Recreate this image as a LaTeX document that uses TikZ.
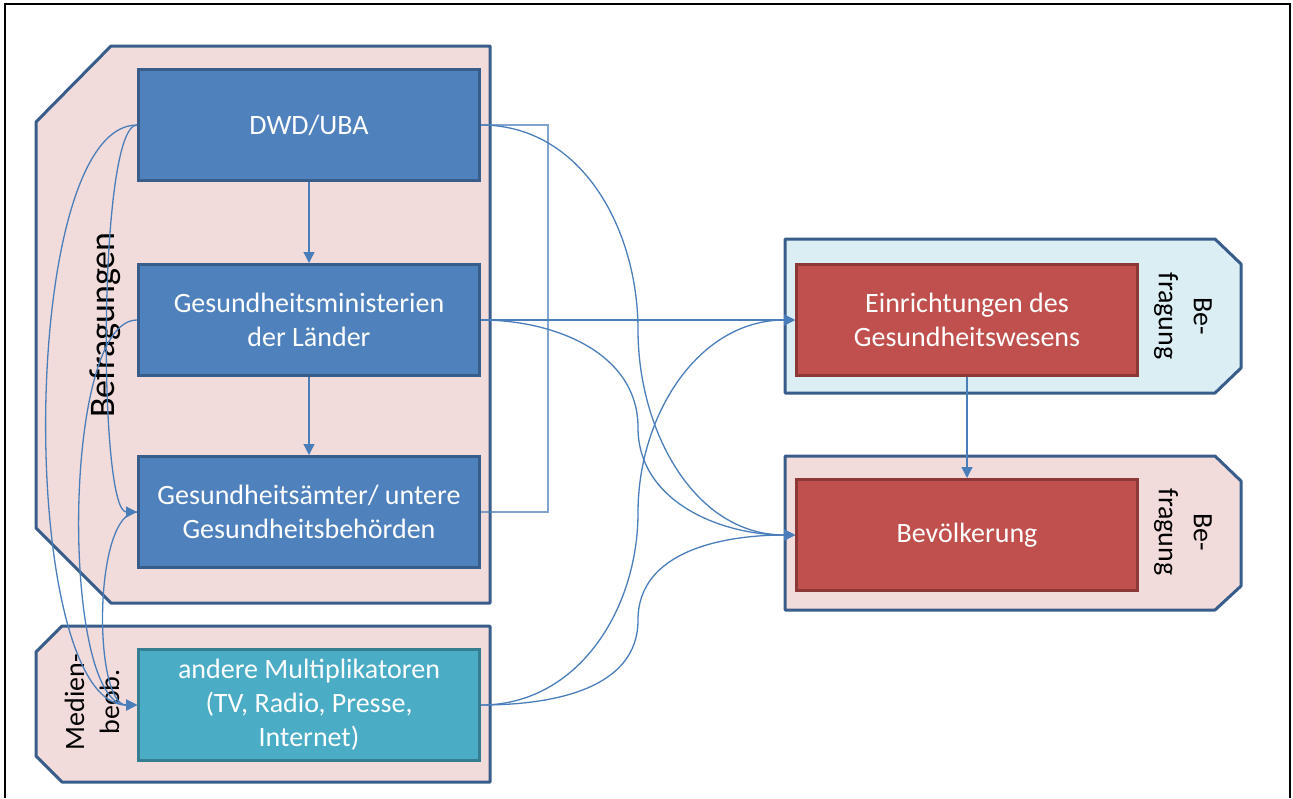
\documentclass[tikz,border=0pt]{standalone}
\usepackage{fontspec}
\setmainfont{Carlito}
\usetikzlibrary{arrows.meta,calc}
\tikzset{>={Triangle[length=5.5pt,width=5.5pt]}}

\definecolor{pinkfill}{HTML}{F2DCDB}
\definecolor{icefill}{HTML}{DBEEF4}
\definecolor{frameblue}{HTML}{385D8A}
\definecolor{boxblue}{HTML}{4F81BD}
\definecolor{boxred}{HTML}{C0504D}
\definecolor{boxredline}{HTML}{8C3836}
\definecolor{boxteal}{HTML}{4BACC6}
\definecolor{boxtealline}{HTML}{357D91}
\definecolor{linkblue}{HTML}{4A7EBB}

\tikzset{
	groupshape/.style={draw=frameblue, line width=1.5pt, line join=round},
	unitbox/.style={draw=frameblue, line width=1.5pt, minimum width=170.5pt, minimum height=55.5pt, text=white, align=center, font=\fontsize{14}{17}\selectfont},
	bluebox/.style={unitbox, fill=boxblue},
	redbox/.style={unitbox, fill=boxred, draw=boxredline},
	tealbox/.style={unitbox, fill=boxteal, draw=boxtealline},
	linkline/.style={->, draw=linkblue, line width=0.65pt},
	sidelabel/.style={align=center, font=\fontsize{14}{17.5}\selectfont}
}

\begin{document}
\begin{tikzpicture}[x=0.5pt, y=-0.5pt]
		\useasboundingbox (0,0) rectangle (1293,798);

		% Frame
		\draw[line width=1pt] (5,798) |- (1290,4) -- (1290,798);

		% Groups
		\draw[groupshape, fill=pinkfill] (111,46) -- (490,46) -- (490,603) -- (111,603) -- (36,528) -- (36,122) -- cycle;
		\draw[groupshape, fill=pinkfill] (62,626) -- (490,626) -- (490,782) -- (62,782) -- (36,756) -- (36,652) -- cycle;
		\draw[groupshape, fill=icefill] (785,239) -- (1215,239) -- (1241,264) -- (1241,368) -- (1215,393) -- (785,393) -- cycle;
		\draw[groupshape, fill=pinkfill] (785,456) -- (1215,456) -- (1241,481) -- (1241,586) -- (1215,610) -- (785,610) -- cycle;

		% Boxes
		\node[bluebox] (dwd) at (309,125) {DWD/UBA};
		\node[bluebox] (gm) at (309,320) {Gesundheitsministerien\\der Länder};
		\node[bluebox] (ga) at (309,512) {Gesundheitsämter/ untere\\Gesundheitsbehörden};
		\node[tealbox] (multi) at (309,705) {andere Multiplikatoren\\(TV, Radio, Presse,\\Internet)};
		\node[redbox] (einr) at (967,320) {Einrichtungen des\\Gesundheitswesens};
		\node[redbox] (bev) at (967,535) {Bevölkerung};

		% Labels on the Groups
		\node[sidelabel, rotate=90, font=\fontsize{18}{21}\selectfont] (befr) at (105,325) {Befragungen};
		\node[sidelabel, rotate=90] (medien) at (92,702) {Medien-\\beob.};
		\node[sidelabel, rotate=-90] (befreinr) at (1183,316) {Be-\\fragung};
		\node[sidelabel, rotate=-90] (befrbev) at (1183,532) {Be-\\fragung};

		% Straight Arrows
		\draw[linkline] (dwd) -- (gm);
		\draw[linkline] (gm) -- (ga);
		\draw[linkline] (einr) -- (bev);
		\draw[linkline] (gm.east) -- (einr.west);
		\draw[linkline, -, opacity=.7] (dwd.east) -- ++(67,0) |- (ga.east);

		% Curves on the Left
		\draw[linkline] (dwd.west) .. controls +(-39,0) and +(-39,0) .. (ga.west);
		\draw[linkline] (dwd.west) .. controls +(-120,0) and +(-120,0) .. (multi.west);
		\draw[linkline] (gm.west) .. controls +(-76,0) and +(-76,0) .. (multi.west);
		\draw[linkline] (ga.west) .. controls +(-44,0) and +(-44,0) .. (multi.west);

		% Curves on the Right
		\draw[linkline] (dwd.east) to[out=0,in=90] ($(dwd.east)!.5!(bev.west)$) to[out=-90,in=180] (bev.west);
		\draw[linkline] (gm.east) to[out=0,in=90] ($(gm.east)!.5!(bev.west)$) to[out=-90,in=180] (bev.west);
		\draw[linkline] (multi.east) to[out=0,in=-90] ($(multi.east)!.5!(einr.west)$) to[out=90,in=180] (einr.west);
		\draw[linkline] (multi.east) to[out=0,in=-90] ($(multi.east)!.5!(bev.west)$) to[out=90,in=180] (bev.west);
	\end{tikzpicture}
\end{document}
